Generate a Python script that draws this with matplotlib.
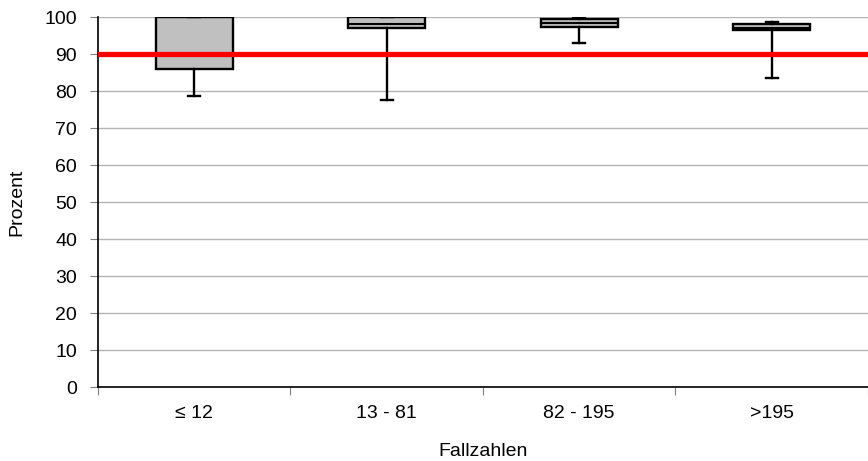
import numpy as np
import matplotlib.pyplot as plt

plt.rcParams['font.family'] = ['Liberation Sans', 'DejaVu Sans']

categories = ['≤ 12', '13 - 81', '82 - 195', '>195']
whislo = [78.6, 77.6, 93.0, 83.6]
q1 = [85.9, 97.0, 97.2, 96.5]
med = [100.0, 98.1, 98.3, 97.0]
q3 = [100.0, 100.0, 99.4, 98.1]
whishi = [100.0, 100.0, 100.0, 98.6]
target = 90

stats = []
for i in range(len(categories)):
    stats.append({'whislo': whislo[i], 'q1': q1[i], 'med': med[i],
                  'q3': q3[i], 'whishi': whishi[i], 'fliers': []})

fig = plt.figure(figsize=(8.68, 4.61), dpi=100)
ax = fig.add_axes([0.1129, 0.1605, 0.8871, 0.8025])

pos = np.arange(1, len(categories) + 1)
ax.bxp(stats, positions=pos, widths=0.4, capwidths=0.06, patch_artist=True,
       showfliers=False,
       boxprops=dict(facecolor='#c0c0c0', edgecolor='black', linewidth=1.7),
       medianprops=dict(color='black', linewidth=1.5),
       whiskerprops=dict(color='black', linewidth=1.7),
       capprops=dict(color='black', linewidth=1.7), zorder=3)

ax.axhline(target, color='#ff0000', linewidth=3.8, zorder=4)

ax.set_ylim(0, 100)
ax.set_xlim(0.5, 4.45)
ax.set_yticks(np.arange(0, 101, 10))
ax.yaxis.grid(True, color='#b4b4b4', linewidth=1)
ax.set_axisbelow(True)

ax.set_xticks(np.arange(0.5, 5, 1))
ax.set_xticklabels([])
ax.set_xticks(pos, minor=True)
ax.set_xticklabels(categories, minor=True)
ax.tick_params(axis='x', which='minor', length=0, pad=13, labelsize=14)
ax.tick_params(axis='x', which='major', length=6, color='#808080')
ax.tick_params(axis='y', length=6, color='#808080', labelsize=14, pad=9)

for s in ['top', 'right']:
    ax.spines[s].set_visible(False)
ax.spines['left'].set_linewidth(1.2)
ax.spines['bottom'].set_linewidth(1.2)

ax.set_xlabel('Fallzahlen', fontsize=14, labelpad=15)
ax.set_ylabel('Prozent', fontsize=14, labelpad=14)

fig.savefig('out.png', dpi=100)
